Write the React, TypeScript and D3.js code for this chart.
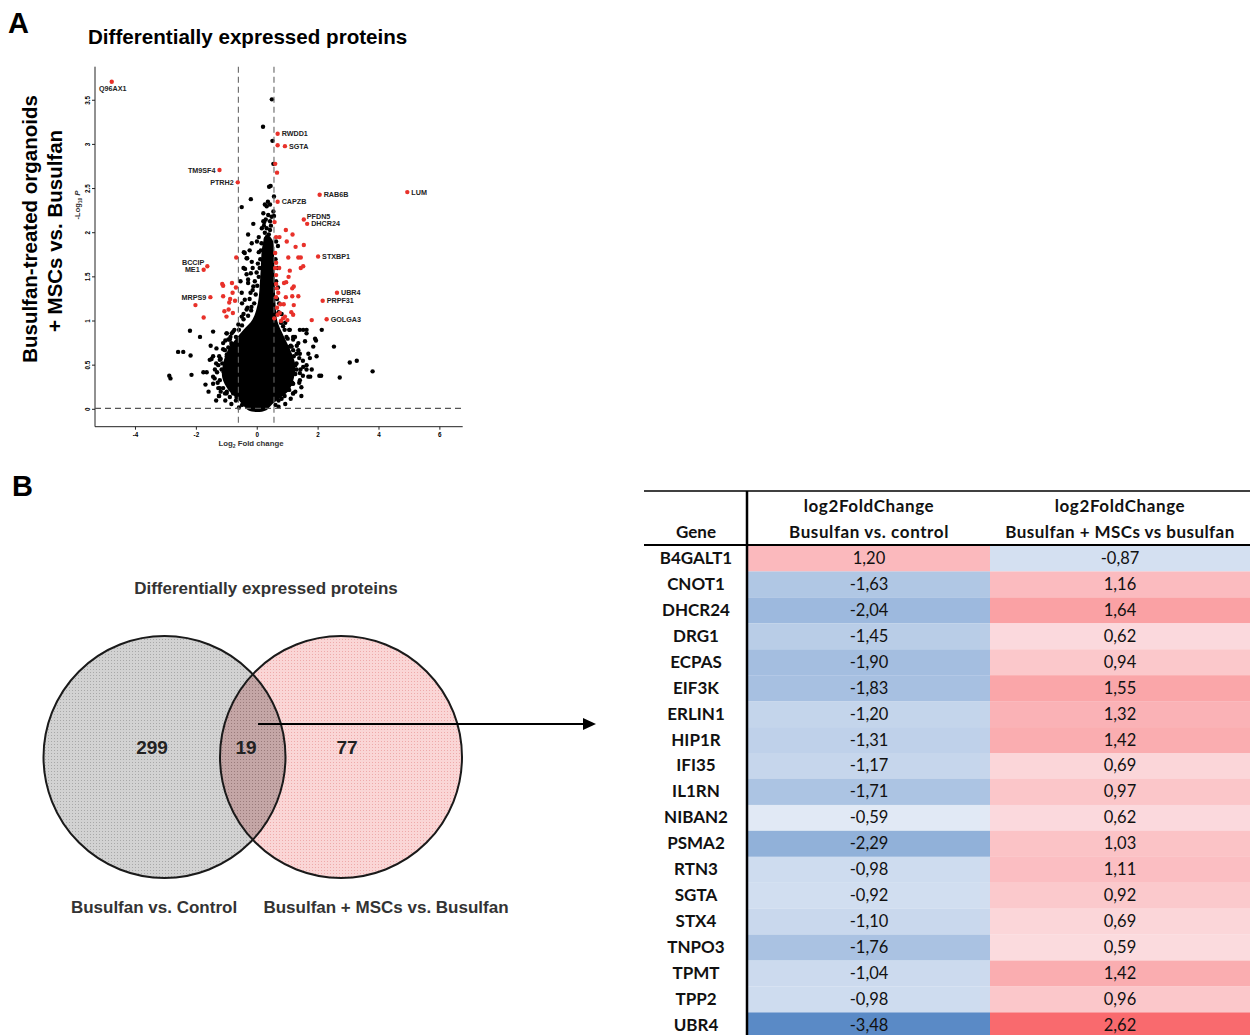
import React from 'react';
import * as d3 from 'd3';

// ---------------- Volcano data (log2 fold change, -log10 P) ----------------
const xTicks = [-4, -2, 0, 2, 4, 6];
const yTicks = [0, 0.5, 1, 1.5, 2, 2.5, 3, 3.5];
const fcCutoffs = [-0.62, 0.55];
const pCutoff = 0.01;

const labeledGenes = [
  { gene: 'Q96AX1', x: -4.78, y: 3.71, pos: 'b' },
  { gene: 'RWDD1', x: 0.67, y: 3.12, pos: 'r' },
  { gene: 'SGTA', x: 0.91, y: 2.98, pos: 'r' },
  { gene: 'TM9SF4', x: -1.24, y: 2.71, pos: 'l' },
  { gene: 'PTRH2', x: -0.64, y: 2.57, pos: 'l' },
  { gene: 'RAB6B', x: 2.05, y: 2.43, pos: 'r' },
  { gene: 'LUM', x: 4.93, y: 2.46, pos: 'r' },
  { gene: 'CAPZB', x: 0.67, y: 2.35, pos: 'r' },
  { gene: 'PFDN5', x: 1.53, y: 2.15, pos: 'ru' },
  { gene: 'DHCR24', x: 1.64, y: 2.1, pos: 'r' },
  { gene: 'STXBP1', x: 2.0, y: 1.73, pos: 'r' },
  { gene: 'BCCIP', x: -1.64, y: 1.62, pos: 'lu' },
  { gene: 'ME1', x: -1.76, y: 1.58, pos: 'l' },
  { gene: 'MRPS9', x: -1.54, y: 1.27, pos: 'l' },
  { gene: 'UBR4', x: 2.62, y: 1.32, pos: 'r' },
  { gene: 'PRPF31', x: 2.15, y: 1.23, pos: 'r' },
  { gene: 'GOLGA3', x: 2.28, y: 1.02, pos: 'r' },
];

const redPoints: [number, number][] = [
  [0.67, 2.99], [0.59, 2.78], [0.65, 2.68],
  [-0.69, 1.72], [-2.03, 1.18], [-1.76, 1.04], [-1.15, 1.42], [-1.12, 1.4], [-0.83, 1.43],
  [-0.7, 1.38], [-0.81, 1.32], [-1.12, 1.28], [-0.89, 1.25], [-0.73, 1.23], [-0.92, 1.21],
  [-1.08, 1.11], [-0.94, 1.13], [-0.8, 1.09], [-1.01, 1.05],
  [0.57, 2.12], [0.62, 1.95], [0.73, 1.95], [0.94, 2.03], [1.16, 1.98], [0.97, 1.9],
  [1.26, 1.84], [1.53, 1.86], [0.59, 1.77], [1.02, 1.72], [1.35, 1.72], [1.43, 1.72],
  [0.62, 1.66], [0.72, 1.6], [0.59, 1.6], [1.07, 1.57], [1.43, 1.6], [1.51, 1.62],
  [0.62, 1.52], [1.03, 1.5], [0.95, 1.44], [0.88, 1.43], [1.2, 1.39], [1.15, 1.37],
  [0.62, 1.42], [0.64, 1.37], [0.69, 1.32], [0.94, 1.27], [1.15, 1.28], [1.35, 1.28],
  [0.62, 1.27], [0.76, 1.19], [0.87, 1.19], [1.2, 1.18], [0.65, 1.15], [1.12, 1.1],
  [1.18, 1.07], [0.74, 1.09], [0.67, 1.07], [0.85, 1.03], [0.91, 1.05], [0.99, 1.01],
  [1.79, 1.01], [0.78, 1.0], [0.56, 1.03],
];

const coreOutline: [number, number][] = [
  [-0.3, -0.01], [0.0, -0.03], [0.3, -0.01], [0.5, 0.06], [0.8, 0.14], [1.05, 0.22], [1.2, 0.35],
  [1.25, 0.5], [1.15, 0.62], [0.98, 0.75], [0.8, 0.88], [0.66, 1.0], [0.6, 1.2], [0.57, 1.5],
  [0.55, 1.75], [0.5, 1.92], [0.3, 1.98], [0.17, 1.85], [0.1, 1.5], [0.02, 1.2], [-0.15, 1.02],
  [-0.45, 0.9], [-0.7, 0.8], [-0.95, 0.68], [-1.12, 0.52], [-1.15, 0.36], [-0.95, 0.22],
  [-0.65, 0.12], [-0.45, 0.04],
];

const blackPoints: [number, number][] = [
  [0.48, 3.51], [0.19, 3.2], [0.5, 3.04], [0.53, 2.78], [0.44, 2.53], [0.39, 2.52], [0.55, 2.41],
  [-0.21, 2.38], [-0.51, 2.29], [0.25, 2.32], [0.31, 2.3], [0.42, 2.32], [0.53, 2.24], [0.2, 2.22],
  [0.36, 2.2], [0.47, 2.18], [0.2, 2.13], [-0.13, 2.1], [-0.3, 1.98], [0.31, 2.05], [0.42, 2.03],
  [0.25, 2.0], [-0.18, 1.88], [0.14, 1.88], [0.31, 1.84], [0.42, 1.86], [-0.44, 1.78], [-0.35, 1.71],
  [-0.18, 1.67], [-0.4, 1.59], [-0.21, 1.54], [-0.3, 1.47], [-0.13, 1.39], [0.55, 2.19], [0.23, 2.12],
  [0.42, 2.13], [-0.01, 1.9], [0.28, 1.93], [0.36, 1.85], [-0.41, 1.77], [-0.33, 1.71], [-0.35, 1.53],
  [-0.51, 1.32], [-0.3, 1.43], [-0.41, 1.24], [-0.35, 1.13], [-0.51, 1.05], [-0.22, 1.32], [-0.19, 1.16],
  [-2.21, 0.89], [-1.88, 0.82], [-1.45, 0.88], [-1.53, 0.72], [-2.6, 0.65], [-2.43, 0.65], [-2.19, 0.61],
  [-2.89, 0.38], [-2.85, 0.35], [-2.16, 0.39], [-1.77, 0.42], [-1.66, 0.42], [-1.5, 0.57], [-1.2, 0.57],
  [-1.28, 0.5], [-1.45, 0.37], [-1.23, 0.24], [-1.12, 0.24], [-1.25, 0.15], [-1.0, 0.86], [-0.84, 0.86],
  [-0.95, 0.79], [-0.84, 0.73], [-1.06, 0.67], [-1.0, 0.6], [-1.17, 0.45], [-0.95, 0.33], [-0.79, 0.18],
  [-1.06, 0.18], [-1.26, 0.15], [-1.01, 0.86], [-0.79, 0.88], [-0.9, 0.79], [-1.12, 0.75], [-1.34, 0.69],
  [-1.45, 0.6], [-1.56, 0.56], [-1.23, 0.56], [-1.01, 0.48], [-1.39, 0.45], [-1.23, 0.33], [-1.45, 0.29],
  [-1.28, 0.24], [-0.9, 0.29], [-0.79, 0.22], [-1.01, 0.18], [-0.68, 0.14], [-0.9, 0.6], [-0.73, 0.67],
  [-0.57, 0.75], [-1.6, 0.2], [-1.35, 0.1], [-1.7, 0.28],
  [1.4, 0.9], [1.62, 0.9], [1.9, 0.8], [1.57, 0.77], [1.24, 0.82], [1.13, 0.71], [1.35, 0.67],
  [1.68, 0.63], [1.95, 0.6], [1.62, 0.5], [1.29, 0.52], [1.79, 0.45], [1.4, 0.41], [1.13, 0.29],
  [1.18, 0.18], [0.97, 0.22], [1.68, 0.37], [2.04, 0.38], [1.51, 0.9], [1.62, 0.86], [1.93, 0.78],
  [1.84, 0.71], [1.73, 0.58], [1.51, 0.48], [1.62, 0.45], [1.4, 0.63], [1.18, 0.67], [2.12, 0.9],
  [2.52, 0.71], [3.04, 0.53], [3.27, 0.55], [3.79, 0.43], [2.1, 0.38], [2.71, 0.36], [1.74, 0.37],
  [0.85, 0.94], [1.07, 0.9], [0.96, 0.82], [1.18, 0.79], [1.35, 0.75], [1.07, 0.71], [1.29, 0.63],
  [0.96, 0.6], [1.13, 0.52], [1.29, 0.45], [1.07, 0.37], [0.91, 0.29], [1.18, 0.29], [1.4, 0.33],
  [1.18, 0.18], [1.45, 0.15], [0.8, 0.12],
  [-1.1, 0.42], [-1.15, 0.52], [-1.0, 0.62], [-0.95, 0.7], [-0.85, 0.75], [-0.7, 0.82], [-0.6, 0.9],
  [-0.5, 0.95], [-0.45, 1.02], [-0.3, 1.06], [-0.2, 1.12], [-0.1, 1.2], [-0.05, 1.3], [0.0, 1.4],
  [0.05, 1.5], [0.08, 1.6], [0.1, 1.7], [0.12, 1.8], [0.62, 1.9], [0.6, 1.7], [0.62, 1.45],
  [0.65, 1.25], [0.7, 1.1], [0.78, 0.98], [0.9, 0.9], [1.0, 0.8], [1.1, 0.72], [1.2, 0.6],
  [1.25, 0.5], [1.25, 0.4], [1.15, 0.3], [1.05, 0.22], [0.9, 0.15], [0.7, 0.1], [0.6, 0.05],
  [-0.5, 0.05], [-0.7, 0.1], [-0.9, 0.14], [-1.0, 0.2], [0.35, 2.35], [0.15, 2.05], [0.05, 1.95],
  [-1.3, 0.3], [-1.32, 0.42], [-1.25, 0.6], [-1.12, 0.68], [-1.05, 0.78], [-0.88, 0.82], [-0.75, 0.9],
  [-0.62, 0.96], [-0.45, 1.08], [-0.32, 1.15], [-0.25, 1.25], [-0.15, 1.35], [-0.08, 1.45], [-0.02, 1.55],
  [0.02, 1.65], [0.05, 1.78], [-1.2, 0.2], [-1.05, 0.1], [-0.85, 0.06], [-0.6, 0.02], [-1.4, 0.35],
  [-1.35, 0.52], [0.68, 1.85], [0.66, 1.6], [0.68, 1.38], [0.72, 1.2], [0.8, 1.08], [0.92, 0.98],
  [1.05, 0.9], [1.18, 0.82], [1.3, 0.72], [1.38, 0.58], [1.42, 0.45], [1.38, 0.3], [1.25, 0.2],
  [1.1, 0.12], [0.92, 0.06], [0.7, 0.03], [1.5, 0.55], [1.5, 0.38], [1.45, 0.25], [0.22, 2.08],
  [0.45, 2.08], [0.38, 1.98], [0.28, 2.15], [-0.55, 1.45], [-0.45, 1.6], [-0.25, 1.8], [-0.5, 1.2],
  [-0.15, 1.6],
];

// ---------------- Venn data ----------------
const vennCounts = [299, 19, 77];
const vennSetLabels = ['Busulfan vs. Control', 'Busulfan + MSCs vs. Busulfan'];

// ---------------- Table data ----------------
const tableGenes = ['B4GALT1', 'CNOT1', 'DHCR24', 'DRG1', 'ECPAS', 'EIF3K', 'ERLIN1', 'HIP1R', 'IFI35', 'IL1RN',
  'NIBAN2', 'PSMA2', 'RTN3', 'SGTA', 'STX4', 'TNPO3', 'TPMT', 'TPP2', 'UBR4'];
const fcBusulfanVsControl = [1.2, -1.63, -2.04, -1.45, -1.9, -1.83, -1.2, -1.31, -1.17, -1.71,
  -0.59, -2.29, -0.98, -0.92, -1.1, -1.76, -1.04, -0.98, -3.48];
const fcMscVsBusulfan = [-0.87, 1.16, 1.64, 0.62, 0.94, 1.55, 1.32, 1.42, 0.69, 0.97,
  0.62, 1.03, 1.11, 0.92, 0.69, 0.59, 1.42, 0.96, 2.62];

const ARIAL = 'Liberation Sans, Arial, sans-serif';
const CAL = 'Lato, sans-serif';

function Volcano() {
  const x = d3.scaleLinear().domain([-5.33, 6.75]).range([95, 462.7]);
  const y = d3.scaleLinear().domain([-0.197, 3.88]).range([426.7, 66.7]);
  const [x0, x1] = x.range();
  const [yb, yt] = y.range();
  const core = d3.line<[number, number]>().x(d => x(d[0])).y(d => y(d[1])).curve(d3.curveCatmullRomClosed.alpha(0.5))(coreOutline) || '';
  const r = 2.2;
  return (
    <g>
      <text x={8} y={33} fontFamily={ARIAL} fontWeight="bold" fontSize={29}>A</text>
      <text x={88} y={44} fontFamily={ARIAL} fontWeight="bold" fontSize={20.6}>Differentially expressed proteins</text>
      <g fontFamily={ARIAL} fontWeight="bold" fontSize={20.5} textAnchor="middle">
        <text transform="translate(37,229) rotate(-90)">Busulfan-treated organoids</text>
        <text transform="translate(62,231) rotate(-90)">+ MSCs vs. Busulfan</text>
      </g>
      {/* axes */}
      <line x1={x0} x2={x0} y1={yt} y2={yb} stroke="#222" strokeWidth={1} />
      <line x1={x0} x2={x1} y1={yb} y2={yb} stroke="#222" strokeWidth={1} />
      {yTicks.map(t => (
        <g key={'y' + t}>
          <line x1={x0 - 3} x2={x0} y1={y(t)} y2={y(t)} stroke="#222" />
          <text transform={`translate(${x0 - 5},${y(t)}) rotate(-90)`} textAnchor="middle" fontFamily={ARIAL} fontSize={6.3} fontWeight="bold">{t}</text>
        </g>
      ))}
      {xTicks.map(t => (
        <g key={'x' + t}>
          <line x1={x(t)} x2={x(t)} y1={yb} y2={yb + 3} stroke="#222" />
          <text x={x(t)} y={yb + 10} textAnchor="middle" fontFamily={ARIAL} fontSize={6.3} fontWeight="bold">{t}</text>
        </g>
      ))}
      <text x={251} y={446} textAnchor="middle" fontFamily={ARIAL} fontWeight="bold" fontSize={7.8} fill="#333">
        Log<tspan fontSize={5} dy={2}>2</tspan><tspan dy={-2}> Fold change</tspan>
      </text>
      <text transform="translate(80,205) rotate(-90)" textAnchor="middle" fontFamily={ARIAL} fontWeight="bold" fontSize={7.5} fill="#333">
        -Log<tspan fontSize={5} dy={2}>10</tspan><tspan dy={-2} fontStyle="italic"> P</tspan>
      </text>
      {/* cloud */}
      <path d={core} fill="#000" />
      {blackPoints.map((p, i) => <circle key={'b' + i} cx={x(p[0])} cy={y(p[1])} r={r} fill="#000" />)}
      {/* dashed cutoffs */}
      {fcCutoffs.map(c => <line key={'c' + c} x1={x(c)} x2={x(c)} y1={yt} y2={yb} stroke="#666" strokeWidth={1.1} strokeDasharray="6,4" />)}
      <line x1={x0} x2={x1} y1={y(pCutoff)} y2={y(pCutoff)} stroke="#555" strokeWidth={1.1} strokeDasharray="6,4" />
      {redPoints.map((p, i) => <circle key={'r' + i} cx={x(p[0])} cy={y(p[1])} r={r} fill="#e8312a" />)}
      {labeledGenes.map(g => {
        const cx = x(g.x), cy = y(g.y);
        let tx = cx + 4, ty = cy + 2.5, anchor = 'start';
        if (g.pos === 'l') { tx = cx - 4; anchor = 'end'; }
        if (g.pos === 'lu') { tx = cx - 3; ty = cy - 1; anchor = 'end'; }
        if (g.pos === 'ru') { tx = cx + 3; ty = cy; }
        if (g.pos === 'b') { tx = cx + 1; ty = cy + 9.5; anchor = 'middle'; }
        return (
          <g key={g.gene}>
            <circle cx={cx} cy={cy} r={r} fill="#e8312a" />
            <text x={tx} y={ty} textAnchor={anchor} fontFamily={ARIAL} fontWeight="bold" fontSize={7.2} fill="#222">{g.gene}</text>
          </g>
        );
      })}
    </g>
  );
}

function Venn() {
  const cxL = 164.5, cxR = 341, cy = 757, rad = 121;
  return (
    <g>
      <text x={12} y={496} fontFamily={ARIAL} fontWeight="bold" fontSize={29}>B</text>
      <text x={266} y={594} textAnchor="middle" fontFamily={ARIAL} fontWeight="bold" fontSize={17} fill="#333">Differentially expressed proteins</text>
      <defs>
        <clipPath id="clipL"><circle cx={cxL} cy={cy} r={rad} /></clipPath>
        <pattern id="dotsG" width={3} height={3} patternUnits="userSpaceOnUse">
          <rect width={3} height={3} fill="#d2d2d2" />
          <rect width={1} height={1} fill="#a8a8a8" />
        </pattern>
        <pattern id="dotsP" width={3} height={3} patternUnits="userSpaceOnUse">
          <rect width={3} height={3} fill="#fad6d6" />
          <rect width={1} height={1} fill="#eeaaaa" />
        </pattern>
        <pattern id="dotsM" width={3} height={3} patternUnits="userSpaceOnUse">
          <rect width={3} height={3} fill="#c4a6a6" />
          <rect width={1} height={1} fill="#9a7b7b" />
        </pattern>
      </defs>
      <circle cx={cxL} cy={cy} r={rad} fill="url(#dotsG)" />
      <circle cx={cxR} cy={cy} r={rad} fill="url(#dotsP)" />
      <circle cx={cxR} cy={cy} r={rad} fill="url(#dotsM)" clipPath="url(#clipL)" />
      <circle cx={cxL} cy={cy} r={rad} fill="none" stroke="#1a1a1a" strokeWidth={2} />
      <circle cx={cxR} cy={cy} r={rad} fill="none" stroke="#1a1a1a" strokeWidth={2} />
      <g fontFamily={ARIAL} fontWeight="bold" fontSize={19} textAnchor="middle" fill="#222">
        <text x={152} y={754}>{vennCounts[0]}</text>
        <text x={246} y={754}>{vennCounts[1]}</text>
        <text x={347} y={754}>{vennCounts[2]}</text>
      </g>
      <g fontFamily={ARIAL} fontWeight="bold" fontSize={17} textAnchor="middle" fill="#333">
        <text x={154} y={913}>{vennSetLabels[0]}</text>
        <text x={386} y={913}>{vennSetLabels[1]}</text>
      </g>
      <line x1={258} x2={584} y1={724} y2={724} stroke="#000" strokeWidth={2} />
      <polygon points="583,718 596,724 583,730" fill="#000" />
    </g>
  );
}

function Table() {
  const top = 545.5, rowH = 25.94;
  const c0 = 644, c1 = 748, c2 = 990, c3 = 1250;
  const white = '#FCFCFF';
  const minV = d3.min([...fcBusulfanVsControl, ...fcMscVsBusulfan]) as number;
  const maxV = d3.max([...fcBusulfanVsControl, ...fcMscVsBusulfan]) as number;
  const blue = d3.scaleLinear<string>().domain([0, minV]).range([white, '#5A8AC6']).interpolate(d3.interpolateRgb);
  const red = d3.scaleLinear<string>().domain([0, maxV]).range([white, '#F96A6E']).interpolate(d3.interpolateRgb);
  const col = (v: number) => (v < 0 ? blue(v) : red(v));
  const fmt = (v: number) => v.toFixed(2).replace('.', ',');
  return (
    <g fontFamily={CAL}>
      {tableGenes.map((g, i) => {
        const yTop = top + i * rowH;
        const base = yTop + rowH / 2 + 5.5;
        return (
          <g key={g}>
            <rect x={c1} y={yTop} width={c2 - c1} height={rowH + 0.1} fill={col(fcBusulfanVsControl[i])} />
            <rect x={c2} y={yTop} width={c3 - c2} height={rowH + 0.1} fill={col(fcMscVsBusulfan[i])} />
            <text x={(c0 + c1) / 2} y={base} textAnchor="middle" fontWeight="bold" fontSize={17} fill="#111">{g}</text>
            <text x={(c1 + c2) / 2} y={base} textAnchor="middle" fontSize={16.5} fill="#111">{fmt(fcBusulfanVsControl[i])}</text>
            <text x={(c2 + c3) / 2} y={base} textAnchor="middle" fontSize={16.5} fill="#111">{fmt(fcMscVsBusulfan[i])}</text>
          </g>
        );
      })}
      <g fontWeight="bold" fontSize={17} textAnchor="middle" fill="#111">
        <text x={(c0 + c1) / 2} y={538}>Gene</text>
        <text x={(c1 + c2) / 2} y={512} letterSpacing={0.6}>log2FoldChange</text>
        <text x={(c1 + c2) / 2} y={538} letterSpacing={0.6}>Busulfan vs. control</text>
        <text x={(c2 + c3) / 2} y={512} letterSpacing={0.6}>log2FoldChange</text>
        <text x={(c2 + c3) / 2} y={538} letterSpacing={0.45}>Busulfan + MSCs vs busulfan</text>
      </g>
      <line x1={c0} x2={c3} y1={491} y2={491} stroke="#000" strokeWidth={1.5} />
      <line x1={c0} x2={c3} y1={545} y2={545} stroke="#000" strokeWidth={2} />
      <line x1={747} x2={747} y1={491} y2={1035} stroke="#000" strokeWidth={2.5} />
    </g>
  );
}

export default function App() {
  return (
    <svg width={1250} height={1035} viewBox="0 0 1250 1035"
      style={{ position: 'absolute', left: 0, top: 0, background: '#fff', display: 'block' }}>
      <rect width={1250} height={1035} fill="#fff" />
      <Volcano />
      <Venn />
      <Table />
    </svg>
  );
}
